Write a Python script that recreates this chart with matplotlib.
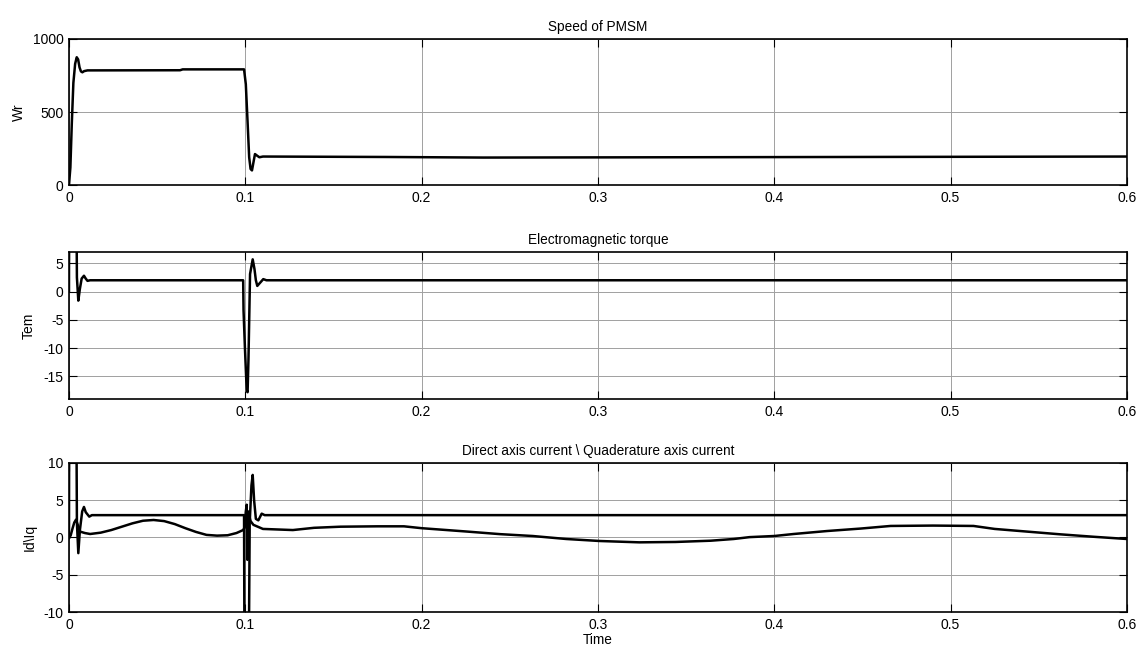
import matplotlib
matplotlib.use("Agg")
import matplotlib.pyplot as plt

plt.rcParams['font.family'] = ['Liberation Sans', 'DejaVu Sans']
plt.rcParams['axes.unicode_minus'] = False

# Speed of PMSM (Wr)
t_speed = [0, 0.0008, 0.0016, 0.0025, 0.0035, 0.0044, 0.0052, 0.006, 0.0068, 0.0076,
           0.0086, 0.0105, 0.063, 0.0645, 0.0993, 0.1003, 0.1013, 0.1022, 0.103,
           0.1038, 0.1047, 0.1055, 0.1068, 0.108, 0.11, 0.18, 0.235, 0.6]
wr = [0, 120, 420, 700, 830, 875, 860, 805, 778, 772,
      780, 785, 786, 792, 792, 690, 430, 190, 110,
      100, 160, 212, 200, 190, 195, 192, 188, 195]

# Electromagnetic torque (Tem)
t_torque = [0, 0.0002, 0.0037, 0.0045, 0.0053, 0.0062, 0.0072, 0.0085, 0.0095, 0.0105,
            0.012, 0.0988, 0.099, 0.0998, 0.1008, 0.1013, 0.1018, 0.1027, 0.1042,
            0.1052, 0.106, 0.1068, 0.1085, 0.1102, 0.112, 0.6]
tem = [0, 40, 40, 2.5, -1.6, 0.5, 2.3, 2.8, 2.3, 1.9,
       2.0, 2.0, -3.3, -10, -17.5, -17.8, -12, 3.1, 5.7,
       4.0, 2.0, 1.0, 1.6, 2.2, 2.0, 2.0]

# Quadrature axis current (Iq)
t_iq = [0, 0.0003, 0.0037, 0.0045, 0.0053, 0.0062, 0.0075, 0.0085, 0.0095, 0.0115,
        0.013, 0.0993, 0.0997, 0.1016, 0.1025, 0.1035, 0.1042, 0.105, 0.106,
        0.1074, 0.1093, 0.111, 0.6]
iq = [0, 40, 40, 2.0, -2.1, 1.0, 3.5, 4.1, 3.4, 2.8,
      3.0, 3.0, -30, -30, 2.0, 7.0, 8.4, 5.0, 2.5,
      2.3, 3.2, 3.0, 3.0]

# Direct axis current (Id)
t_id = [0, 0.001, 0.002, 0.003, 0.004, 0.0062, 0.009, 0.012, 0.018, 0.024, 0.03,
        0.036, 0.042, 0.048, 0.054, 0.06, 0.066, 0.072, 0.078, 0.084, 0.09, 0.095,
        0.0988, 0.0995, 0.1003, 0.1008, 0.1012, 0.1016, 0.103, 0.1046, 0.11, 0.127,
        0.139, 0.154, 0.175, 0.19, 0.2, 0.2256, 0.2445, 0.263, 0.282, 0.301, 0.3235,
        0.344, 0.364, 0.377, 0.386, 0.4, 0.411, 0.43, 0.449, 0.466, 0.49, 0.513,
        0.525, 0.543, 0.562, 0.581, 0.6]
id_ = [-0.1, 0.3, 1.2, 2.0, 2.4, 0.8, 0.6, 0.47, 0.65, 1.0, 1.45,
       1.9, 2.25, 2.35, 2.2, 1.8, 1.25, 0.75, 0.35, 0.25, 0.3, 0.6,
       1.0, 1.3, 3.5, 4.4, -3.0, 3.5, 2.2, 1.7, 1.15, 1.0,
       1.3, 1.45, 1.5, 1.5, 1.25, 0.8, 0.45, 0.2, -0.2, -0.47, -0.65,
       -0.6, -0.43, -0.2, 0.05, 0.2, 0.47, 0.87, 1.2, 1.55, 1.6, 1.55,
       1.15, 0.8, 0.43, 0.1, -0.2]

fig = plt.figure(figsize=(11.4, 6.51), dpi=100)
ax1 = fig.add_axes([0.0605, 0.7158, 0.928, 0.2243])
ax2 = fig.add_axes([0.0605, 0.3871, 0.928, 0.2258])
ax3 = fig.add_axes([0.0605, 0.0599, 0.928, 0.2289])

ax1.plot(t_speed, wr, color='black', lw=1.8)
ax2.plot(t_torque, tem, color='black', lw=1.8)
ax3.plot(t_iq, iq, color='black', lw=1.8)
ax3.plot(t_id, id_, color='black', lw=1.8)

ax1.set_ylim(0, 1000)
ax1.set_yticks([0, 500, 1000])
ax2.set_ylim(-19, 7)
ax2.set_yticks([-15, -10, -5, 0, 5])
ax3.set_ylim(-10, 10)
ax3.set_yticks([-10, -5, 0, 5, 10])

ax1.set_title('Speed of PMSM', fontsize=9.8, pad=6)
ax2.set_title('Electromagnetic torque', fontsize=9.8, pad=6)
ax3.set_title('Direct axis current \\ Quaderature axis current', fontsize=9.8, pad=6)
ax1.set_ylabel('Wr', fontsize=10)
ax2.set_ylabel('Tem', fontsize=10)
ax3.set_ylabel('Id\\Iq', fontsize=10)
ax3.set_xlabel('Time', fontsize=9.8, labelpad=1)

ax1.yaxis.set_label_coords(-0.0405, 0.5)
ax2.yaxis.set_label_coords(-0.0315, 0.5)
ax3.yaxis.set_label_coords(-0.0305, 0.5)

for ax in (ax1, ax2, ax3):
    ax.set_xlim(0, 0.6)
    ax.set_xticks([0, 0.1, 0.2, 0.3, 0.4, 0.5, 0.6])
    ax.set_xticklabels(['0', '0.1', '0.2', '0.3', '0.4', '0.5', '0.6'])
    ax.grid(True, color='#a0a0a0', lw=0.7, ls='-')
    ax.set_axisbelow(True)
    ax.tick_params(direction='in', length=6, width=0.8, top=True, right=True,
                   labelsize=10, pad=4)
    for s in ax.spines.values():
        s.set_linewidth(1.2)

fig.savefig('out.png', dpi=100)
